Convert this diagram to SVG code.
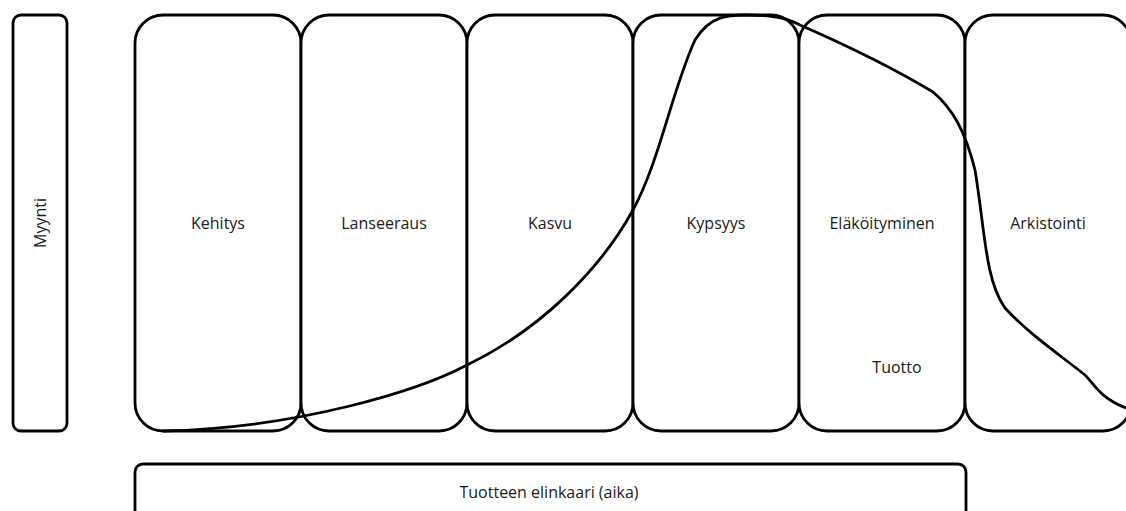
<svg xmlns="http://www.w3.org/2000/svg" width="1126" height="511" viewBox="0 0 1126 511">
  <style>
    .box { fill: #ffffff; stroke: #000000; stroke-width: 2.8; }
    .curve { fill: none; stroke: #000000; stroke-width: 2.8; }
    .lbl { font-family: "Open Sans", "Liberation Sans", sans-serif; font-size: 16px; fill: #1a1a1a; text-anchor: middle; }
  </style>
  <rect width="1126" height="511" fill="#ffffff"/>

  <!-- vertical axis -->
  <g id="myynti">
    <rect class="box" x="13" y="15" width="54" height="416" rx="8"/>
    <text class="lbl" transform="translate(46 223) rotate(-90)">Myynti</text>
  </g>

  <!-- life-cycle phases -->
  <g id="kehitys">
    <rect class="box" x="135" y="15" width="166" height="416" rx="28"/>
    <text class="lbl" x="218" y="229">Kehitys</text>
  </g>
  <g id="lanseeraus">
    <rect class="box" x="301" y="15" width="166" height="416" rx="28"/>
    <text class="lbl" x="384" y="229">Lanseeraus</text>
  </g>
  <g id="kasvu">
    <rect class="box" x="467" y="15" width="166" height="416" rx="28"/>
    <text class="lbl" x="550" y="229">Kasvu</text>
  </g>
  <g id="kypsyys">
    <rect class="box" x="633" y="15" width="166" height="416" rx="28"/>
    <text class="lbl" x="716" y="229">Kypsyys</text>
  </g>
  <g id="elakoityminen">
    <rect class="box" x="799" y="15" width="166" height="416" rx="28"/>
    <text class="lbl" x="882" y="229">Eläköityminen</text>
    <text class="lbl" x="897" y="373">Tuotto</text>
  </g>
  <g id="arkistointi">
    <rect class="box" x="965" y="15" width="166" height="416" rx="28"/>
    <text class="lbl" x="1048" y="229">Arkistointi</text>
  </g>

  <!-- horizontal axis -->
  <g id="aika">
    <rect class="box" x="135" y="464" width="831" height="70" rx="8"/>
    <text class="lbl" x="549" y="498">Tuotteen elinkaari (aika)</text>
  </g>

  <!-- sales curve -->
  <g id="connectors">
    <path class="curve" d="M163,431 C300,428 420,390 467,365 C540,330 600,270 633,210 C660,160 672,90 695,40 C710,15 730,15 745,15 C770,15 785,17 800,25 Q880,60 933,92 C952,108 965,130 975,170 C985,230 985,280 1005,308 C1030,335 1060,355 1085,375 C1095,385 1100,398 1126,408"/>
  </g>
</svg>
